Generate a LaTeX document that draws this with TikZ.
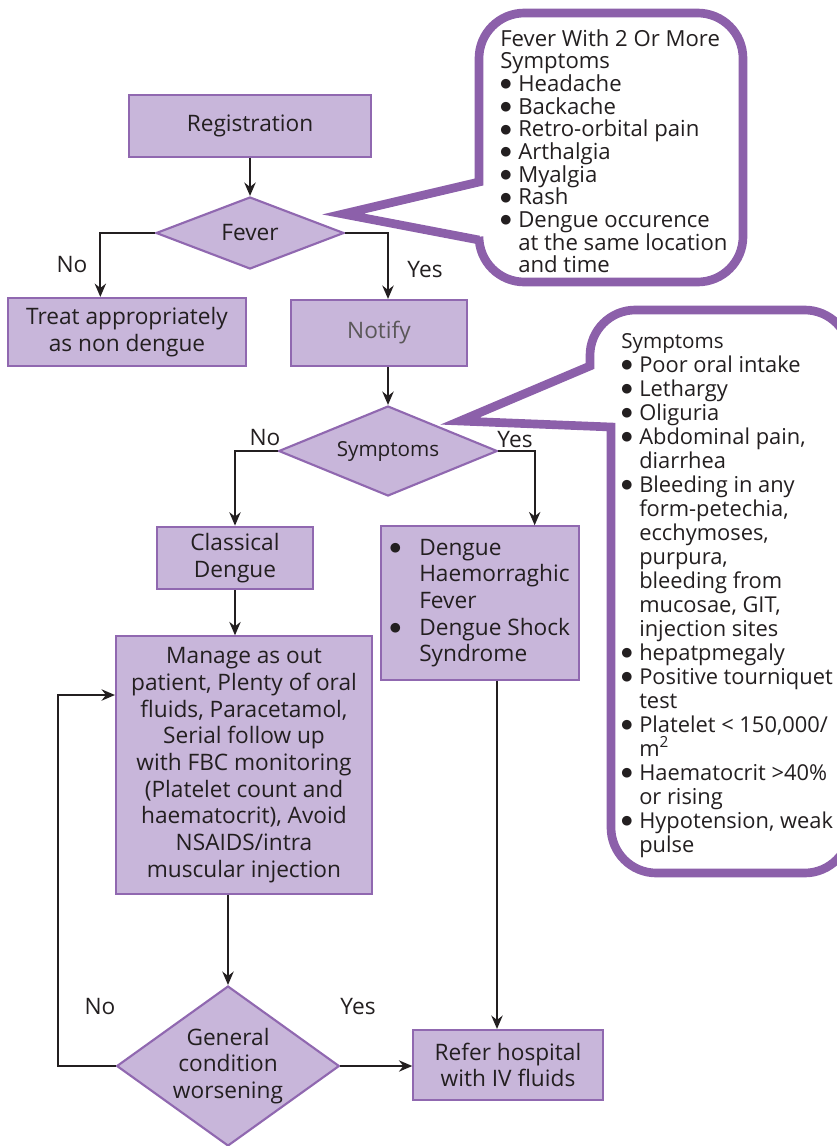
\documentclass[tikz,border=0pt]{standalone}
\usepackage{fontspec}
\setmainfont{Open Sans}
\newfontfamily\dotfont{DejaVu Sans}
\usetikzlibrary{shapes.geometric,arrows.meta}
\definecolor{boxfill}{HTML}{C8B6DA}
\definecolor{boxline}{HTML}{9068B0}
\definecolor{bubline}{HTML}{8C60AA}
\definecolor{ink}{HTML}{231F20}
\newcommand{\bul}{\raisebox{2.6pt}{\dotfont\fontsize{9.5}{9.5}\selectfont ●}}
\newcommand{\itm}{\makebox[13.5pt][l]{\bul}}
\newcommand{\ind}{\hspace*{13.5pt}}
\begin{document}
\begin{tikzpicture}[x=0.75pt, y=-0.75pt,
    font=\fontsize{17}{20}\selectfont, text=ink,
    box/.style={draw=boxline, fill=boxfill, line width=1.6pt, align=center, inner sep=0pt},
    dia/.style={diamond, draw=boxline, fill=boxfill, line width=1.6pt, align=center, inner sep=0pt},
    arr/.style={draw=ink, line width=1.4pt, -{Stealth[length=10pt,width=8.5pt]}},
    bub/.style={draw=bubline, fill=white, line width=6.5pt, line join=miter, miter limit=20}]
    \useasboundingbox (0,0) rectangle (837,1146);
    % callouts
    \draw[bub] (343,214) -- (479,240) [rounded corners=34pt] -- (479,282) -- (743,282) -- (743,13) -- (479,13) [sharp corners] -- (479,182) -- cycle;
    \draw[bub] (460,421) -- (611,427) [rounded corners=34pt] -- (611,873) -- (850,873) -- (850,310) -- (590,310) [sharp corners] -- (590,366) -- cycle;
    \node[anchor=north west, inner sep=0pt, align=left, font=\fontsize{16.6}{17}\selectfont] (fevlist) at (500,29)
        {Fever With 2 Or More\\Symptoms\\\itm Headache\\\itm Backache\\\itm Retro-orbital pain\\\itm Arthalgia\\\itm Myalgia\\\itm Rash\\\itm Dengue occurence\\\ind at the same location\\\ind and time};
    \node[anchor=north west, inner sep=0pt, align=left, font=\fontsize{16.4}{18}\selectfont] (symlist) at (621,333)
        {{\fontsize{15.5}{18}\selectfont Symptoms}\\\itm Poor oral intake\\\itm Lethargy\\\itm Oliguria\\\itm Abdominal pain,\\\ind diarrhea\\\itm Bleeding in any\\\ind form-petechia,\\\ind ecchymoses,\\\ind purpura,\\\ind bleeding from\\\ind mucosae, GIT,\\\ind injection sites\\\itm hepatpmegaly\\\itm Positive tourniquet\\\ind test\\\itm Platelet < 150,000/\\\ind m\textsuperscript{2}\\\itm Haematocrit >40\%\\\ind or rising\\\itm Hypotension, weak\\\ind pulse};
    % flow
    \node[box, minimum width=182pt, minimum height=46pt] (reg) at (250,126) {Registration};
    \node[dia, aspect=2.6, minimum width=141pt, minimum height=54pt] (fev) at (250,233) {Fever};
    \node[box, minimum width=178.5pt, minimum height=51pt] (treat) at (127,332) {Treat appropriately\\as non dengue};
    \node[box, minimum width=132pt, minimum height=49.5pt, text=ink!75] (notify) at (379,333) {Notify};
    \node[dia, aspect=2.4, minimum width=164pt, minimum height=67.5pt, font=\fontsize{15.5}{15}\selectfont] (sym) at (388,451) {Symptoms};
    \node[box, minimum width=117pt, minimum height=47pt] (classic) at (235,558) {Classical\\Dengue};
    \node[box, minimum width=148.5pt, minimum height=115pt, align=left] (dhf) at (480,603)
        {\makebox[22pt][l]{\bul}Dengue\\\hspace*{22pt}Haemorraghic\\\hspace*{22pt}Fever\\\makebox[22pt][l]{\bul}Dengue Shock\\\hspace*{22pt}Syndrome};
    \node[box, minimum width=192pt, minimum height=193pt] (manage) at (244,765) {Manage as out\\patient, Plenty of oral\\fluids, Paracetamol,\\Serial follow up\\with FBC monitoring\\(Platelet count and\\haematocrit), Avoid\\NSAIDS/intra\\muscular injection};
    \node[dia, aspect=1.39, minimum width=167pt, minimum height=120pt] (gen) at (228,1066) {General\\condition\\worsening};
    \node[box, minimum width=142pt, minimum height=52.5pt] (refer) at (508,1065) {Refer hospital\\with IV fluids};
    \node (no1) at (72,265) {No};
    \node (yes1) at (425,270) {Yes};
    \node (no2) at (265,438) {No};
    \node (yes2) at (515,440) {Yes};
    \node (no3) at (100,1007) {No};
    \node (yes3) at (358,1007) {Yes};
    \coordinate (loop) at (58,695);
    \coordinate (d1) at ([xshift=12.75pt]dhf.south);
    \draw[arr] (reg.south) -- (fev.north);
    \draw[arr] (fev.west) -| ([xshift=-20pt]treat.north);
    \draw[arr] (fev.east) -| (sym.north |- notify.north);
    \draw[arr] (sym.north |- notify.south) -- (sym.north);
    \draw[arr] (sym.west) -| (classic.north);
    \draw[arr] (sym.east) -| ([xshift=41pt]dhf.north);
    \draw[arr] (classic.south) -- (classic.south |- manage.north);
    \draw[arr] (gen.north |- manage.south) -- (gen.north);
    \draw[arr] (gen.west) -| (loop) -- (loop -| manage.west);
    \draw[arr] (gen.east) -- (gen.east -| refer.west);
    \draw[arr] (d1) -- (d1 |- refer.north);
\end{tikzpicture}
\end{document}
